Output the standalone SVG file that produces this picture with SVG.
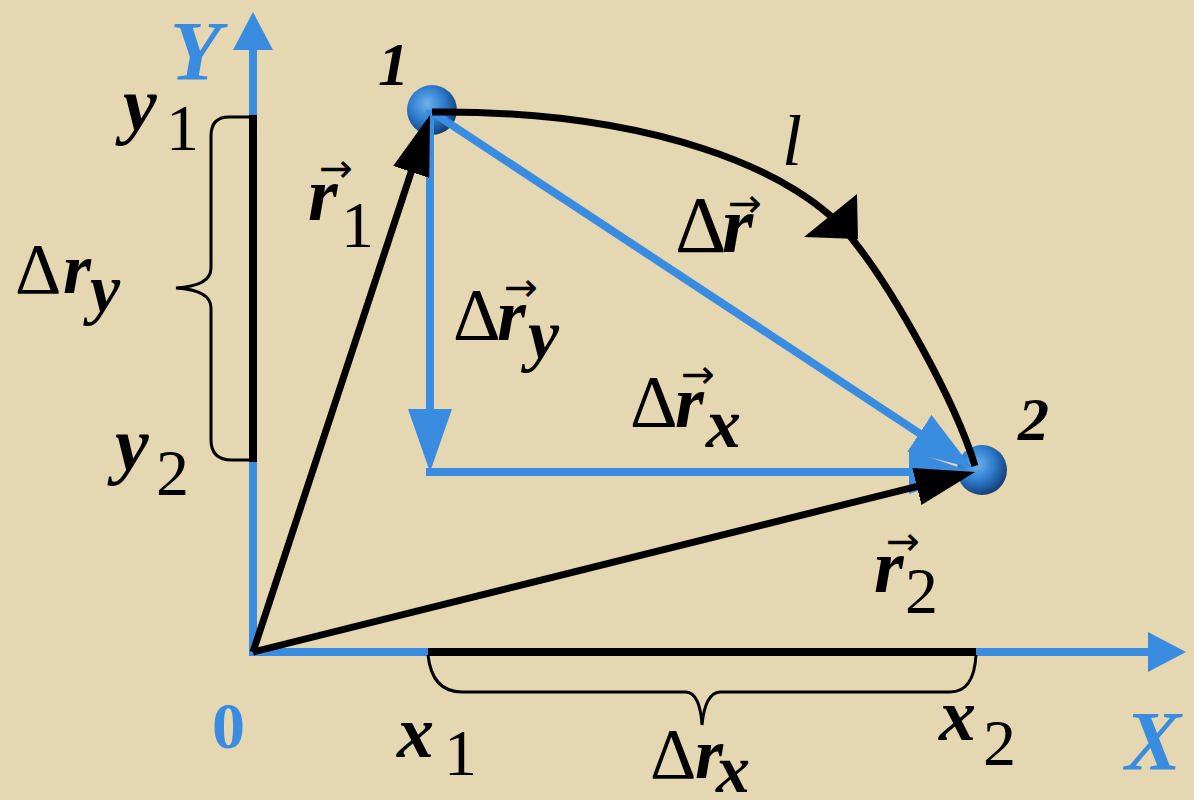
<svg xmlns="http://www.w3.org/2000/svg" width="1194" height="800" viewBox="0 0 1194 800">
<defs>
<style>
.t{font-family:"Liberation Serif","Times New Roman",serif;fill:#000}
.i{font-style:italic}
.v{font-style:italic;font-weight:bold}
.b{font-weight:bold}
.bl{fill:#3a8ce0}
.ax{stroke:#3a8ce0;stroke-width:8;fill:none}
.bv{stroke:#3a8ce0;stroke-width:8;fill:none}
.kv{stroke:#000;stroke-width:7;fill:none}
.seg{stroke:#000;stroke-width:8;fill:none}
.br{stroke:#000;stroke-width:3;fill:none}
.ov{font-family:"DejaVu Sans","Liberation Sans",sans-serif;fill:#000}
</style>
<marker id="aAxis" viewBox="0 0 38 40" markerWidth="38" markerHeight="40" refX="18" refY="20" orient="auto" markerUnits="userSpaceOnUse"><path d="M0,0 L38,20 L0,40 Z" fill="#3a8ce0"/></marker>
<marker id="aBlue" viewBox="0 0 63 44" markerWidth="63" markerHeight="44" refX="43" refY="22" orient="auto" markerUnits="userSpaceOnUse"><path d="M0,0 L63,22 L0,44 Z" fill="#3a8ce0"/></marker>
<marker id="aBlack" viewBox="0 0 60 38" markerWidth="60" markerHeight="38" refX="40" refY="19" orient="auto" markerUnits="userSpaceOnUse"><path d="M0,0 L60,19 L0,38 Z" fill="#000"/></marker>
<radialGradient id="ball" cx="40%" cy="38%" r="65%">
<stop offset="0" stop-color="#6fb2ee"/>
<stop offset="0.55" stop-color="#2c7acb"/>
<stop offset="1" stop-color="#153c70"/>
</radialGradient>
</defs>
<rect width="1194" height="800" fill="#e4d7b1"/>

<g id="point1"><circle cx="432" cy="110" r="25" fill="url(#ball)"/></g>
<g id="point2"><circle cx="982" cy="470" r="25" fill="url(#ball)"/></g>

<g id="connectors">
<path id="axisY" class="ax" d="M253,656 L253,32" marker-end="url(#aAxis)"/>
<path id="axisX" class="ax" d="M249,652 L1166,652" marker-end="url(#aAxis)"/>
<path id="segY" class="seg" d="M253,115 L253,462"/>
<path id="segX" class="seg" d="M428,652 L976,652"/>
<path id="braceY" class="br" d="M250,117 L229,117 Q211,117 211,136 L211,268 Q211,286 176,288 Q211,290 211,308 L211,440 Q211,460 232,460 L250,460"/>
<path id="braceX" class="br" d="M428,655 Q432,692 462,692 L686,692 Q700,693 702,725 Q705,693 720,692 L950,692 Q974,692 976,655"/>
<path id="drY" class="bv" d="M430,110 L430,452" marker-end="url(#aBlue)"/>
<path id="drX" class="bv" d="M426,472 L952,472" marker-end="url(#aBlue)"/>
<path id="dr" class="bv" d="M432,112 L955.3,457" marker-end="url(#aBlue)"/>
<path id="r1" class="kv" d="M253,652 L423.7,134" marker-end="url(#aBlack)"/>
<path id="r2" class="kv" d="M253,652 L955.6,476.8" marker-end="url(#aBlack)"/>
<path id="pathL" class="kv" stroke-width="6" d="M432,112 C650,110 800,170 853,240 C893,290 955,400 975,466"/>
<polygon id="pathLArrow" points="857,194 804,237 858,239" fill="#000"/>
</g>

<g id="labels">
<text class="t v bl" x="170" y="80" font-size="84">Y</text>
<text class="t v bl" x="1125" y="770" font-size="84">X</text>
<text class="t b bl" x="212" y="748" font-size="66">0</text>
<text class="t v" x="378" y="85" font-size="62">1</text>
<text class="t v" x="1018" y="440" font-size="62">2</text>
<text class="t i" x="782" y="165" font-size="72">l</text>

<text class="t" font-size="76"><tspan class="v" x="123" y="130">y</tspan><tspan x="166" y="150" font-size="66">1</tspan></text>
<text class="t" font-size="76"><tspan class="v" x="115" y="470">y</tspan><tspan x="156" y="495" font-size="66">2</tspan></text>
<text class="t" font-size="72"><tspan x="15" y="293">Δ</tspan><tspan class="v" x="63" y="293">r</tspan><tspan class="v" x="90" y="312" font-size="68">y</tspan></text>

<text class="t" font-size="76"><tspan class="v" x="308" y="220">r</tspan><tspan x="341" y="247" font-size="66">1</tspan></text>
<text class="ov" x="319" y="182" font-size="40" textLength="34" lengthAdjust="spacingAndGlyphs">→</text>

<text class="t" font-size="80"><tspan x="675" y="252">Δ</tspan><tspan class="v" x="722" y="252">r</tspan></text>
<text class="ov" x="728" y="217" font-size="40" textLength="34" lengthAdjust="spacingAndGlyphs">→</text>

<text class="t" font-size="74"><tspan x="453" y="340">Δ</tspan><tspan class="v" x="497" y="340">r</tspan><tspan class="v" x="528" y="358" font-size="70">y</tspan></text>
<text class="ov" x="504" y="301" font-size="40" textLength="34" lengthAdjust="spacingAndGlyphs">→</text>

<text class="t" font-size="74"><tspan x="630" y="427">Δ</tspan><tspan class="v" x="675" y="427">r</tspan><tspan class="v" x="706" y="447" font-size="70">x</tspan></text>
<text class="ov" x="681" y="388" font-size="40" textLength="34" lengthAdjust="spacingAndGlyphs">→</text>

<text class="t" font-size="76"><tspan class="v" x="874" y="592">r</tspan><tspan x="905" y="613" font-size="66">2</tspan></text>
<text class="ov" x="886" y="555" font-size="40" textLength="34" lengthAdjust="spacingAndGlyphs">→</text>

<text class="t" font-size="74"><tspan class="v" x="397" y="757">x</tspan><tspan x="444" y="775" font-size="66">1</tspan></text>
<text class="t" font-size="74"><tspan class="v" x="939" y="740">x</tspan><tspan x="983" y="765" font-size="66">2</tspan></text>
<text class="t" font-size="72"><tspan x="650" y="778">Δ</tspan><tspan class="v" x="695" y="778">r</tspan><tspan class="v" x="716" y="792" font-size="68">x</tspan></text>
</g>
</svg>
